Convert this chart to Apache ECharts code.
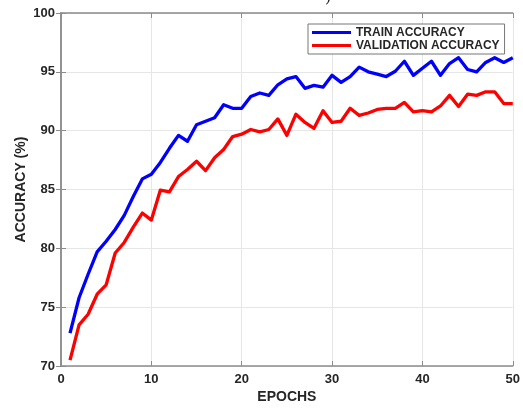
<!DOCTYPE html>
<html>
<head>
<meta charset="utf-8">
<script src="https://cdn.jsdelivr.net/npm/echarts@6/dist/echarts.min.js"></script>
<style>
  html, body { margin: 0; padding: 0; background: #fff; }
  #chart { width: 523px; height: 409px; }
</style>
</head>
<body>
<div id="chart"></div>
<script>
// epochs 1..50
const epochs = [1, 2, 3, 4, 5, 6, 7, 8, 9, 10, 11, 12, 13, 14, 15, 16, 17, 18, 19, 20,
  21, 22, 23, 24, 25, 26, 27, 28, 29, 30, 31, 32, 33, 34, 35, 36, 37, 38, 39, 40,
  41, 42, 43, 44, 45, 46, 47, 48, 49, 50]

// train accuracy (blue)
const trainAcc = [72.8, 75.8, 77.8, 79.7, 80.6, 81.6, 82.8, 84.4, 85.9, 86.3,
  87.3, 88.5, 89.6, 89.1, 90.5, 90.8, 91.1, 92.2, 91.9, 91.9,
  92.9, 93.2, 93.0, 93.9, 94.4, 94.6, 93.6, 93.85, 93.7, 94.7,
  94.1, 94.6, 95.4, 95.0, 94.8, 94.6, 95.05, 95.9, 94.7, 95.3,
  95.9, 94.7, 95.7, 96.2, 95.2, 95.0, 95.8, 96.2, 95.8, 96.2]

// validation accuracy (red)
const valAcc = [70.5, 73.5, 74.4, 76.1, 76.9, 79.6, 80.5, 81.8, 83.0, 82.4,
  84.95, 84.8, 86.1, 86.7, 87.4, 86.6, 87.7, 88.4, 89.5, 89.7,
  90.1, 89.9, 90.1, 91.0, 89.6, 91.4, 90.7, 90.2, 91.7, 90.7,
  90.8, 91.9, 91.3, 91.5, 91.8, 91.9, 91.9, 92.4, 91.6, 91.7,
  91.6, 92.1, 93.0, 92.05, 93.1, 93.0, 93.3, 93.3, 92.3, 92.3]

const seriesNames = ['TRAIN ACCURACY', 'VALIDATION ACCURACY']

const axisGray = '#8c8c8c'
const textDark = '#262626'

const myChart = echarts.init(document.querySelector('#chart'), null, { renderer: 'canvas' })

// top / right box edges with inward ticks, no labels
const hiddenAxis = {
  axisLabel: { show: false },
  splitLine: { show: false },
  axisLine: { show: true, lineStyle: { color: axisGray, width: 1.5 } },
  axisTick: { show: true, inside: true, length: 5, lineStyle: { color: axisGray } }
}

const option = {
  animation: false,
  backgroundColor: '#fff',
  graphic: [{
    type: 'text',
    left: 325,
    top: -10,
    style: { text: ')', font: '16px "DejaVu Serif"', fill: '#222' }
  }],
  grid: { left: 61, right: 9, top: 13, bottom: 40 },
  legend: {
    data: seriesNames,
    orient: 'vertical',
    left: 308,
    top: 24,
    icon: 'rect',
    itemWidth: 39,
    itemHeight: 3,
    itemGap: 0,
    padding: [2, 5, 2, 4],
    borderColor: '#777',
    borderWidth: 1,
    backgroundColor: '#fff',
    textStyle: {
      fontFamily: 'Liberation Sans',
      fontWeight: 'bold',
      fontSize: 12,
      lineHeight: 13,
      color: textDark
    }
  },
  xAxis: [{
    type: 'value',
    min: 0,
    max: 50,
    interval: 10,
    name: 'EPOCHS',
    nameLocation: 'middle',
    nameGap: 24,
    nameMoveOverlap: false,
    nameTextStyle: { fontFamily: 'Liberation Sans', fontWeight: 'bold', fontSize: 14, color: textDark },
    axisLine: { show: true, onZero: false, lineStyle: { color: axisGray, width: 1.5 } },
    axisTick: { show: true, inside: true, length: 5, lineStyle: { color: axisGray } },
    axisLabel: { margin: 7, fontFamily: 'Liberation Sans', fontWeight: 'bold', fontSize: 13, color: textDark },
    splitLine: { show: true, lineStyle: { color: '#e6e6e6', width: 1 } }
  }, Object.assign({ type: 'value', position: 'top', min: 0, max: 50, interval: 10 }, hiddenAxis)],
  yAxis: [{
    type: 'value',
    min: 70,
    max: 100,
    interval: 5,
    name: 'ACCURACY (%)',
    nameLocation: 'middle',
    nameGap: 33,
    nameMoveOverlap: false,
    nameTextStyle: { fontFamily: 'Liberation Sans', fontWeight: 'bold', fontSize: 14, color: textDark },
    axisLine: { show: true, onZero: false, lineStyle: { color: axisGray, width: 1.5 } },
    axisTick: { show: true, inside: true, length: 5, lineStyle: { color: axisGray } },
    axisLabel: { margin: 6, fontFamily: 'Liberation Sans', fontWeight: 'bold', fontSize: 13, color: textDark },
    splitLine: { show: true, lineStyle: { color: '#e6e6e6', width: 1 } }
  }, Object.assign({ type: 'value', position: 'right', min: 70, max: 100, interval: 5 }, hiddenAxis)],
  series: [
    {
      name: seriesNames[0],
      type: 'line',
      data: epochs.map((e, i) => [e, trainAcc[i]]),
      symbol: 'none',
      color: '#0000ff',
      lineStyle: { width: 3.3, color: '#0000ff', join: 'round' },
      z: 3
    },
    {
      name: seriesNames[1],
      type: 'line',
      data: epochs.map((e, i) => [e, valAcc[i]]),
      symbol: 'none',
      color: '#ff0000',
      lineStyle: { width: 3.3, color: '#ff0000', join: 'round' },
      z: 2
    }
  ]
}

myChart.setOption(option)
</script>
</body>
</html>
